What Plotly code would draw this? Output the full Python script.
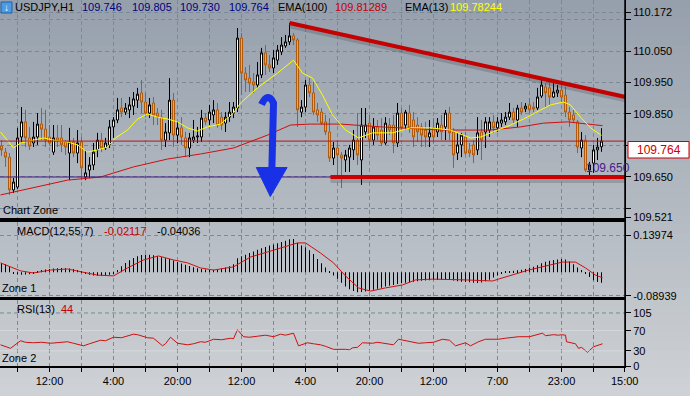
import plotly.graph_objects as go

# ---------------- data ----------------
bar_index = list(range(151))

opens = [109.748, 109.729, 109.713, 109.609, 109.618, 109.777, 109.825, 109.774, 109.758, 109.777,
         109.818, 109.802, 109.777, 109.729, 109.774, 109.774, 109.761, 109.726, 109.761, 109.726,
         109.761, 109.650, 109.672, 109.688, 109.736, 109.767, 109.742, 109.752, 109.809, 109.831,
         109.869, 109.856, 109.863, 109.875, 109.894, 109.917, 109.888, 109.853, 109.885, 109.853,
         109.840, 109.767, 109.790, 109.894, 109.783, 109.806, 109.774, 109.742, 109.767, 109.777,
         109.777, 109.837, 109.831, 109.847, 109.863, 109.840, 109.821, 109.840, 109.853, 109.869,
         110.091, 109.980, 109.964, 109.952, 109.942, 109.974, 110.044, 110.006, 109.996, 110.021,
         110.047, 110.066, 110.079, 110.098, 110.085, 109.856, 109.872, 109.942, 109.917, 109.863,
         109.856, 109.825, 109.793, 109.710, 109.742, 109.720, 109.704, 109.713, 109.736, 109.767,
         109.704, 109.793, 109.821, 109.767, 109.809, 109.799, 109.758, 109.815, 109.815, 109.758,
         109.853, 109.815, 109.853, 109.831, 109.815, 109.809, 109.799, 109.777, 109.806, 109.793,
         109.815, 109.809, 109.853, 109.793, 109.726, 109.752, 109.777, 109.736, 109.752, 109.736,
         109.793, 109.793, 109.799, 109.825, 109.806, 109.821, 109.825, 109.840, 109.856, 109.831,
         109.869, 109.866, 109.879, 109.872, 109.869, 109.907, 109.936, 109.933, 109.904, 109.917,
         109.926, 109.910, 109.856, 109.847, 109.825, 109.742, 109.767, 109.672, 109.694, 109.736,
         109.746]
highs = [109.767, 109.742, 109.726, 109.647, 109.806, 109.872, 109.863, 109.809, 109.825, 109.853,
         109.869, 109.863, 109.815, 109.815, 109.815, 109.815, 109.767, 109.806, 109.774, 109.799,
         109.777, 109.736, 109.713, 109.758, 109.790, 109.790, 109.774, 109.831, 109.840, 109.901,
         109.901, 109.885, 109.904, 109.920, 109.933, 109.958, 109.917, 109.901, 109.904, 109.869,
         109.863, 109.821, 109.964, 109.917, 109.825, 109.840, 109.793, 109.790, 109.831, 109.809,
         109.863, 109.853, 109.879, 109.894, 109.885, 109.856, 109.856, 109.888, 109.888, 110.123,
         110.107, 109.999, 110.006, 109.980, 110.015, 110.060, 110.069, 110.037, 110.053, 110.069,
         110.094, 110.101, 110.139, 110.107, 110.091, 109.894, 109.958, 109.964, 109.952, 109.885,
         109.869, 109.847, 109.837, 109.761, 109.767, 109.729, 109.736, 109.752, 109.799, 109.853,
         109.869, 109.869, 109.847, 109.837, 109.831, 109.837, 109.840, 109.837, 109.847, 109.885,
         109.869, 109.863, 109.879, 109.856, 109.840, 109.821, 109.825, 109.831, 109.837, 109.837,
         109.847, 109.863, 109.872, 109.806, 109.790, 109.790, 109.793, 109.758, 109.767, 109.840,
         109.831, 109.840, 109.840, 109.847, 109.840, 109.853, 109.856, 109.885, 109.869, 109.879,
         109.888, 109.885, 109.901, 109.888, 109.933, 109.964, 109.948, 109.952, 109.948, 109.942,
         109.948, 109.936, 109.872, 109.863, 109.831, 109.793, 109.783, 109.698, 109.752, 109.774,
         109.805]
lows = [109.717, 109.682, 109.593, 109.599, 109.612, 109.758, 109.745, 109.736, 109.745, 109.752,
        109.767, 109.745, 109.752, 109.720, 109.745, 109.729, 109.720, 109.640, 109.713, 109.694,
        109.640, 109.640, 109.647, 109.672, 109.713, 109.729, 109.736, 109.742, 109.774, 109.821,
        109.840, 109.847, 109.837, 109.847, 109.869, 109.853, 109.840, 109.837, 109.815, 109.815,
        109.736, 109.745, 109.767, 109.745, 109.758, 109.752, 109.713, 109.713, 109.758, 109.758,
        109.761, 109.815, 109.815, 109.821, 109.806, 109.799, 109.793, 109.825, 109.837, 109.856,
        109.910, 109.920, 109.920, 109.917, 109.933, 109.964, 109.974, 109.983, 109.980, 110.006,
        110.037, 110.060, 110.069, 110.069, 109.809, 109.840, 109.856, 109.904, 109.847, 109.825,
        109.815, 109.783, 109.698, 109.688, 109.647, 109.615, 109.666, 109.666, 109.704, 109.688,
        109.625, 109.774, 109.742, 109.752, 109.767, 109.748, 109.752, 109.783, 109.726, 109.745,
        109.799, 109.799, 109.790, 109.745, 109.761, 109.745, 109.745, 109.745, 109.758, 109.777,
        109.767, 109.767, 109.767, 109.679, 109.704, 109.713, 109.720, 109.713, 109.694, 109.720,
        109.704, 109.742, 109.777, 109.790, 109.793, 109.809, 109.815, 109.831, 109.821, 109.809,
        109.847, 109.856, 109.853, 109.856, 109.863, 109.901, 109.872, 109.879, 109.901, 109.904,
        109.885, 109.840, 109.809, 109.821, 109.726, 109.713, 109.666, 109.656, 109.663, 109.704,
        109.730]
closes = [109.736, 109.713, 109.609, 109.634, 109.774, 109.825, 109.774, 109.748, 109.777, 109.818,
          109.802, 109.767, 109.758, 109.774, 109.764, 109.752, 109.745, 109.761, 109.726, 109.758,
          109.679, 109.663, 109.688, 109.729, 109.767, 109.742, 109.758, 109.809, 109.831, 109.863,
          109.856, 109.869, 109.879, 109.898, 109.913, 109.888, 109.853, 109.879, 109.847, 109.840,
          109.767, 109.793, 109.894, 109.783, 109.806, 109.777, 109.742, 109.774, 109.777, 109.780,
          109.837, 109.825, 109.856, 109.863, 109.815, 109.815, 109.840, 109.856, 109.872, 110.091,
          109.980, 109.958, 109.948, 109.942, 109.974, 110.044, 110.006, 109.996, 110.028, 110.053,
          110.069, 110.079, 110.098, 110.085, 109.863, 109.872, 109.942, 109.917, 109.856, 109.847,
          109.821, 109.793, 109.710, 109.742, 109.720, 109.710, 109.720, 109.742, 109.767, 109.720,
          109.815, 109.815, 109.767, 109.809, 109.783, 109.758, 109.821, 109.799, 109.758, 109.853,
          109.806, 109.856, 109.806, 109.777, 109.793, 109.783, 109.777, 109.790, 109.777, 109.821,
          109.793, 109.853, 109.790, 109.720, 109.752, 109.783, 109.726, 109.726, 109.720, 109.790,
          109.767, 109.825, 109.825, 109.806, 109.825, 109.831, 109.840, 109.856, 109.831, 109.869,
          109.856, 109.875, 109.863, 109.866, 109.904, 109.942, 109.917, 109.904, 109.920, 109.926,
          109.904, 109.856, 109.831, 109.831, 109.745, 109.767, 109.672, 109.688, 109.736, 109.745,
          109.764]

ema13_x = [-0.25, 3, 4.75, 8, 10.5, 13, 16.5, 19, 21.5, 24, 26.5, 28.5, 31.5, 34, 36.5, 39, 41.5, 44,
           46.5, 49, 51.5, 54.75, 58, 59.75, 64, 69, 73, 75.25, 77.75, 80.25, 82.75, 86, 89.25, 92.75,
           97.75, 102.25, 107.25, 112.25, 117.25, 119.75, 123, 127.25, 130.5, 134, 137.25, 140.5,
           142.25, 144.75, 147.25, 150]
ema13_y = [109.793, 109.742, 109.758, 109.767, 109.774, 109.767, 109.761, 109.752, 109.729, 109.736,
           109.745, 109.774, 109.799, 109.834, 109.850, 109.840, 109.834, 109.825, 109.806, 109.796,
           109.809, 109.818, 109.853, 109.885, 109.933, 109.980, 110.021, 109.980, 109.964, 109.910,
           109.847, 109.799, 109.774, 109.790, 109.790, 109.806, 109.806, 109.799, 109.774, 109.777,
           109.793, 109.815, 109.834, 109.856, 109.879, 109.888, 109.879, 109.840, 109.806, 109.782]

ema100_x = [-0.25, 16.5, 24.75, 33, 41.5, 49.75, 58, 66.5, 72.25, 77.25, 84.75, 95, 110, 122,
            129.75, 135.5, 141.5, 150.25]
ema100_y = [109.593, 109.640, 109.650, 109.682, 109.707, 109.723, 109.742, 109.783, 109.815, 109.818,
            109.818, 109.809, 109.799, 109.799, 109.809, 109.821, 109.825, 109.813]

macd_hist = [0.035, 0.030, 0.022, -0.004, -0.008, -0.010, -0.009, -0.008, -0.006, 0.004,
             0.008, 0.010, 0.012, 0.014, 0.015, 0.016, 0.015, 0.014, 0.012, 0.008,
             0.004, -0.006, -0.010, -0.012, -0.013, -0.014, -0.013, -0.010, -0.004, 0.008,
             0.022, 0.035, 0.045, 0.053, 0.060, 0.065, 0.066, 0.066, 0.064, 0.060,
             0.056, 0.052, 0.050, 0.044, 0.038, 0.033, 0.028, 0.023, 0.019, 0.015,
             0.012, 0.010, 0.008, 0.009, 0.011, 0.014, 0.018, 0.022, 0.030, 0.052,
             0.060, 0.066, 0.072, 0.078, 0.084, 0.090, 0.095, 0.100, 0.104, 0.109,
             0.113, 0.118, 0.124, 0.125, 0.110, 0.100, 0.094, 0.082, 0.068, 0.050,
             0.034, 0.018, 0.003, -0.012, -0.025, -0.040, -0.054, -0.064, -0.071, -0.075,
             -0.074, -0.073, -0.070, -0.066, -0.062, -0.058, -0.054, -0.051, -0.048, -0.044,
             -0.042, -0.040, -0.038, -0.036, -0.034, -0.032, -0.031, -0.030, -0.029, -0.028,
             -0.028, -0.028, -0.029, -0.031, -0.034, -0.036, -0.037, -0.038, -0.040, -0.041,
             -0.039, -0.034, -0.028, -0.020, -0.012, -0.004, 0.001, 0.003, 0.005, 0.007,
             0.009, 0.012, 0.016, 0.020, 0.026, 0.034, 0.039, 0.043, 0.046, 0.048,
             0.050, 0.048, 0.040, 0.030, 0.018, 0.008, -0.004, -0.018, -0.030, -0.037,
             -0.040]

signal_x = [-0.25, 2.25, 4.75, 8, 12.25, 16.5, 19.75, 24, 28, 31.5, 35.5, 39.25, 43, 46.5, 49.75,
            53, 58, 62.25, 66.5, 70.5, 74, 76, 79.75, 83, 86, 89.25, 92.25, 96, 100.25, 103.5,
            107.75, 116, 122.75, 124.25, 127.75, 131.75, 136, 140.25, 143.5, 146, 148.5, 150.25]
signal_y = [0.035, 0.020, 0.005, -0.003, 0.008, 0.012, 0.001, -0.011, -0.014, 0.016, 0.046, 0.061,
            0.046, 0.035, 0.016, 0.008, 0.020, 0.057, 0.076, 0.095, 0.110, 0.110, 0.072, 0.035,
            -0.014, -0.059, -0.071, -0.059, -0.048, -0.029, -0.026, -0.029, -0.033, -0.026,
            -0.011, 0.008, 0.023, 0.038, 0.038, 0.016, -0.011, -0.021]

rsi_x = [-0.25, 2.25, 4.75, 6, 8, 10, 12.25, 14, 16.5, 18, 20.5, 22, 24.75, 26, 28, 30, 33, 34,
         36.5, 38, 40.25, 41, 42.25, 44, 46.5, 48, 49.75, 51, 53, 55, 57.25, 58, 59, 60.5, 62, 64,
         66, 68, 69.75, 71, 73, 74.25, 75, 76.5, 78, 79.75, 81, 83, 86, 87, 87.75, 89, 90.25,
         92.75, 94, 95, 98, 99.25, 100, 102, 104.25, 106, 108, 110.25, 112, 113.5, 115, 116,
         117.25, 119.25, 121, 124.25, 126, 127.75, 129.25, 132, 135.25, 136, 138, 139.25, 140,
         141, 141.25, 143.5, 144.25, 145, 146.5, 148, 150.25]
rsi_y = [42, 35, 50, 47, 46, 47, 45, 46, 48, 45, 40, 44, 51, 50, 57, 56, 63, 62, 56, 55, 40, 44,
         57, 45, 42, 44, 48, 47, 53, 52, 55, 54, 72, 58, 57, 59, 61, 58, 63, 61, 65, 40, 42, 46,
         44, 42, 39, 33, 33, 32, 36, 37, 46, 45, 47, 46, 42, 53, 52, 49, 45, 46, 47, 53, 51, 40,
         44, 46, 40, 48, 53, 53, 55, 57, 58, 58, 65, 60, 62, 61, 62, 61, 48, 44, 35, 37, 27, 38, 44]

x_tick_vals = [4, 12, 20, 28, 36, 44, 52, 60, 68, 76, 84, 92, 100, 108, 116, 124, 132, 140, 148, 155.8]
x_tick_text = ['', '12:00', '', '4:00', '', '20:00', '', '12:00', '', '4:00', '', '20:00', '',
               '12:00', '', '7:00', '', '23:00', '', '15:00']
price_ticks = [109.521, 109.55, 109.65, 109.75, 109.85, 109.95, 110.05, 110.15, 110.172]
price_tick_text = ['109.521', '', '109.650', '', '109.850', '109.950', '110.050', '', '110.172']
macd_ticks = [-0.08939, 0.13974]
rsi_ticks = [0, 30, 70, 105]

last_price = 109.764
support_level = 109.650
support_start = 82.25
trend_start = (72, 110.139)
trend_end = (156, 109.904)

# ---------------- layout helpers (pixel positions -> paper) ----------------
PW, PH = 625, 366


def px(x):
    return x / PW


def py(y):
    return (PH - y) / PH


FONT = "Liberation Sans, Arial, sans-serif"
GRID = "#7b8896"

fig = go.Figure()

fig.add_trace(go.Candlestick(
    x=bar_index, open=opens, high=highs, low=lows, close=closes,
    increasing=dict(fillcolor="#ffffff", line=dict(color="#000000", width=1)),
    decreasing=dict(fillcolor="#f9a81c", line=dict(color="#b05a0e", width=1)),
    whiskerwidth=0, xaxis="x", yaxis="y", hoverinfo="skip", showlegend=False))
fig.add_trace(go.Scatter(x=ema100_x, y=ema100_y, mode="lines", line=dict(color="#cc1010", width=1),
                         xaxis="x", yaxis="y", showlegend=False, hoverinfo="skip"))
fig.add_trace(go.Scatter(x=ema13_x, y=ema13_y, mode="lines", line=dict(color="#ffff00", width=1),
                         xaxis="x", yaxis="y", showlegend=False, hoverinfo="skip"))

fig.add_trace(go.Bar(x=bar_index, y=macd_hist, width=0.25, marker=dict(color="#000000", line=dict(width=0)),
                     xaxis="x2", yaxis="y2", showlegend=False, hoverinfo="skip"))
fig.add_trace(go.Scatter(x=signal_x, y=signal_y, mode="lines", line=dict(color="#cc1010", width=1),
                         xaxis="x2", yaxis="y2", showlegend=False, hoverinfo="skip"))

fig.add_trace(go.Scatter(x=rsi_x, y=rsi_y, mode="lines", line=dict(color="#cc1010", width=1),
                         xaxis="x3", yaxis="y3", showlegend=False, hoverinfo="skip"))

shapes = []
# vertical gradient background
top_c = (150, 160, 172)
bot_c = (206, 209, 213)
n_bands = 44
y_lo, y_hi = -30 / PH, 1.0
for k in range(n_bands):
    t = k / (n_bands - 1)
    c = tuple(int(round(top_c[j] + (bot_c[j] - top_c[j]) * t)) for j in range(3))
    y1 = y_hi - (y_hi - y_lo) * k / n_bands
    y0 = y_hi - (y_hi - y_lo) * (k + 1) / n_bands
    shapes.append(dict(type="rect", xref="paper", yref="paper", x0=0, x1=690 / PW, y0=y0 - 0.002, y1=y1,
                       fillcolor="rgb(%d,%d,%d)" % c, line=dict(width=0), layer="below"))

# price lines
shapes.append(dict(type="line", xref="paper", yref="y", x0=0, x1=1, y0=support_level, y1=support_level,
                   line=dict(color="#3f1a86", width=1)))
shapes.append(dict(type="line", xref="paper", yref="y", x0=0, x1=1, y0=last_price, y1=last_price,
                   line=dict(color="#b01818", width=1)))
# shadows
shapes.append(dict(type="line", xref="x", yref="y", x0=trend_start[0], y0=trend_start[1] - 0.009,
                   x1=trend_end[0], y1=trend_end[1] - 0.009, line=dict(color="rgba(50,55,60,0.22)", width=5)))
shapes.append(dict(type="line", xref="x", yref="y", x0=support_start, y0=support_level - 0.011,
                   x1=156, y1=support_level - 0.011, line=dict(color="rgba(50,55,60,0.22)", width=5)))
# thick red lines
shapes.append(dict(type="line", xref="x", yref="y", x0=trend_start[0], y0=trend_start[1],
                   x1=trend_end[0], y1=trend_end[1], line=dict(color="#c40000", width=4)))
shapes.append(dict(type="line", xref="x", yref="y", x0=support_start, y0=support_level,
                   x1=156, y1=support_level, line=dict(color="#cc0000", width=4)))
# blue arrow (drawn annotation)
shapes.append(dict(type="path", xref="x", yref="y",
                   path="M 65.0,109.880 Q 66.6,109.922 68.0,109.885 L 67.6,109.679",
                   line=dict(color="#1830e6", width=7)))
shapes.append(dict(type="path", xref="x", yref="y",
                   path="M 63.7,109.680 L 71.4,109.680 L 67.2,109.588 Z",
                   fillcolor="#1830e6", line=dict(color="#1830e6", width=1)))
# RSI levels
shapes.append(dict(type="line", xref="paper", yref="y3", x0=0, x1=1, y0=105, y1=105,
                   line=dict(color=GRID, width=1, dash="4px,3px")))
for lv in (30, 70):
    shapes.append(dict(type="line", xref="paper", yref="y3", x0=0, x1=1, y0=lv, y1=lv,
                       line=dict(color="rgba(225,228,232,0.6)", width=1)))
# right border
shapes.append(dict(type="line", xref="paper", yref="paper", x0=1, x1=1, y0=0, y1=1,
                   line=dict(color="#000000", width=1.5)))
# price box
shapes.append(dict(type="rect", xref="paper", yref="paper", x0=px(628), x1=px(689), y0=py(158), y1=py(141.5),
                   fillcolor="#ffffff", line=dict(color="#cc0000", width=1)))
# header icon
shapes.append(dict(type="rect", xref="paper", yref="paper", x0=px(1), x1=px(12), y0=py(13), y1=py(2),
                   fillcolor="#4d9be3", line=dict(color="#1d5fa8", width=1)))

annotations = []


def txt(x, y, s, color="#000000", size=11, anchor="left"):
    annotations.append(dict(xref="paper", yref="paper", x=px(x), y=py(y), text=s, showarrow=False,
                            xanchor=anchor, yanchor="middle", font=dict(family=FONT, size=size, color=color)))


txt(6.5, 7.5, "↓", "#ffffff", 10, "center")
txt(13, 7.5, "USDJPY,H1")
txt(80, 7.5, "109.746", "#000080")
txt(130, 7.5, "109.805", "#000080")
txt(178, 7.5, "109.730", "#000080")
txt(227, 7.5, "109.764", "#000080")
txt(276, 7.5, "EMA(100)")
txt(333, 7.5, "109.81289", "#c00000")
txt(403, 7.5, "EMA(13)")
txt(448, 7.5, "109.78244", "#ffff00")
txt(1, 210, "Chart Zone")
txt(15, 231, "MACD(12,55,7)")
txt(102, 231, "-0.02117", "#c00000")
txt(155, 231, "-0.04036")
txt(0, 288, "Zone 1")
txt(15, 309, "RSI(13)")
txt(59, 309, "44", "#c00000")
txt(0, 358, "Zone 2")
txt(584, 168, "109.650", "#4b1a90", 12)
txt(658.5, 150, "109.764", "#cc0000", 12, "center")

axis_common = dict(showgrid=True, gridcolor=GRID, griddash="4px,3px", gridwidth=1, zeroline=False,
                   linecolor="#000000")

fig.update_layout(
    width=690, height=396, margin=dict(l=0, r=65, t=0, b=30),
    template="none", paper_bgcolor="#c9cdd1", plot_bgcolor="rgba(0,0,0,0)",
    font=dict(family=FONT, size=11, color="#000000"), showlegend=False, boxgap=0.5, boxgroupgap=0,
    xaxis=dict(domain=[0, 1], range=[-0.375, 155.875], anchor="y", tickvals=x_tick_vals, ticktext=x_tick_text,
               showticklabels=False, ticks="", showline=True, linewidth=1.5, mirror=False,
               rangeslider=dict(visible=False), **axis_common),
    xaxis2=dict(domain=[0, 1], matches="x", anchor="y2", tickvals=x_tick_vals, showticklabels=False,
                ticks="", showline=True, linewidth=1.5, mirror=True, **axis_common),
    xaxis3=dict(domain=[0, 1], matches="x", anchor="y3", tickvals=x_tick_vals, ticktext=x_tick_text,
                ticks="outside", ticklen=4, tickcolor="#000000", showline=True, linewidth=1.5, mirror=True,
                tickfont=dict(size=11), **axis_common),
    yaxis=dict(domain=[py(218), 1], range=[109.5198, 110.2119], anchor="x", side="right",
               tickvals=price_ticks, ticktext=price_tick_text, ticks="outside", ticklen=5,
               tickcolor="#000000", showline=True, linewidth=1, **axis_common),
    yaxis2=dict(domain=[py(297), py(222)], range=[-0.0932, 0.1886], anchor="x2", side="right",
                tickvals=macd_ticks, ticktext=["-0.08939", "0.13974"], ticks="outside", ticklen=5,
                tickcolor="#000000", showline=True, linewidth=1, **axis_common),
    yaxis3=dict(domain=[0, py(300)], range=[0, 130.7], anchor="x3", side="right",
                tickvals=rsi_ticks, ticks="outside", ticklen=5, tickcolor="#000000", showline=True,
                linewidth=1, showgrid=False, zeroline=False, linecolor="#000000"),
    shapes=shapes, annotations=annotations,
)

fig.write_html("out.html", config={"displayModeBar": False})
with open("out.html", "r", encoding="utf-8") as fh:
    html = fh.read()
html = html.replace("<head>", "<head><style>html,body{margin:0;padding:0;overflow:hidden;}</style>", 1)
with open("out.html", "w", encoding="utf-8") as fh:
    fh.write(html)
